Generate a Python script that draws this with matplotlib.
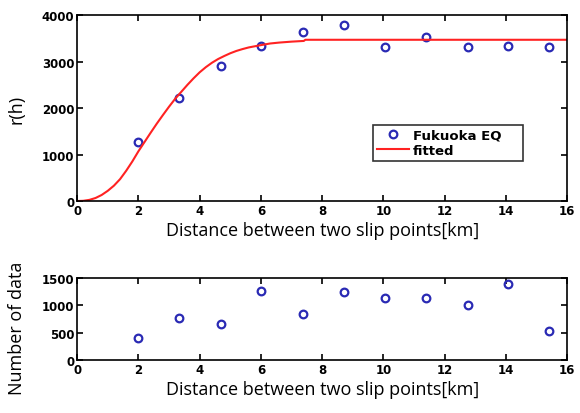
import matplotlib
matplotlib.use("Agg")
import matplotlib.pyplot as plt

# distance between two slip points [km]
dist = [2.0, 3.33, 4.7, 6.0, 7.37, 8.72, 10.05, 11.4, 12.75, 14.07, 15.4]
# semivariogram r(h) for Fukuoka EQ
rh = [1275, 2210, 2910, 3330, 3630, 3785, 3320, 3520, 3320, 3340, 3305]
# number of data pairs per bin
n_data = [405, 766, 667, 1265, 841, 1246, 1127, 1134, 1003, 1389, 529]

# fitted curve
fit_x = [0, 0.2, 0.4, 0.6, 0.8, 1.0, 1.2, 1.4, 1.6, 1.8, 2.0, 2.2, 2.4, 2.6,
         2.8, 3.0, 3.2, 3.4, 3.6, 3.8, 4.0, 4.2, 4.4, 4.6, 4.8, 5.0, 5.2,
         5.4, 5.6, 5.8, 6.0, 6.3, 6.6, 7.0, 7.4, 7.45, 16]
fit_y = [0, 5, 25, 65, 130, 220, 330, 470, 650, 850, 1070, 1270, 1470, 1665,
         1850, 2030, 2200, 2350, 2500, 2640, 2770, 2880, 2975, 3055, 3120,
         3180, 3230, 3270, 3305, 3330, 3355, 3390, 3410, 3430, 3445, 3470,
         3470]

blue = "#2a2ab4"
red = "#ff2222"
label_font = dict(fontsize=13, family="Open Sans")

fig = plt.figure(figsize=(5.8, 4.14), dpi=100)
ax1 = fig.add_axes([0.133, 0.512, 0.845, 0.449])
ax2 = fig.add_axes([0.133, 0.128, 0.845, 0.198])

ax1.plot(dist, rh, "o", mfc="none", mec=blue, ms=5.5, mew=1.6, label="Fukuoka EQ")
ax1.plot(fit_x, fit_y, "-", color=red, lw=1.5, label="fitted")
ax1.set_xlim(0, 16)
ax1.set_ylim(0, 4000)
ax1.set_xticks(range(0, 17, 2))
ax1.set_yticks(range(0, 4001, 1000))
ax1.set_xlabel("Distance between two slip points[km]", **label_font)
ax1.set_ylabel("r(h)", **label_font)
leg = ax1.legend(loc="lower left", bbox_to_anchor=(0.604, 0.215, 0.306, 0.242),
                 mode="expand", fancybox=False, edgecolor="black",
                 prop=dict(size=9.5, weight="bold"), handlelength=2.4,
                 borderaxespad=0, borderpad=0.3, labelspacing=0.2,
                 handletextpad=0.3)
leg.get_frame().set_linewidth(1.2)

ax2.plot(dist, n_data, "o", mfc="none", mec=blue, ms=5.5, mew=1.6)
ax2.set_xlim(0, 16)
ax2.set_ylim(0, 1500)
ax2.set_xticks(range(0, 17, 2))
ax2.set_yticks(range(0, 1501, 500))
ax2.set_xlabel("Distance between two slip points[km]", **label_font)
ax2.set_ylabel("Number of data", **label_font)

for ax in (ax1, ax2):
    ax.tick_params(direction="in", top=True, right=True, length=4, width=1.2, pad=2)
    for lab in ax.get_xticklabels() + ax.get_yticklabels():
        lab.set_fontsize(8.5)
        lab.set_fontweight("bold")
    for sp in ax.spines.values():
        sp.set_linewidth(1.2)
    ax.xaxis.labelpad = 3

ax1.yaxis.set_label_coords(-0.105, 0.5)
ax2.yaxis.set_label_coords(-0.105, 0.4)

fig.savefig("out.png", dpi=100)
